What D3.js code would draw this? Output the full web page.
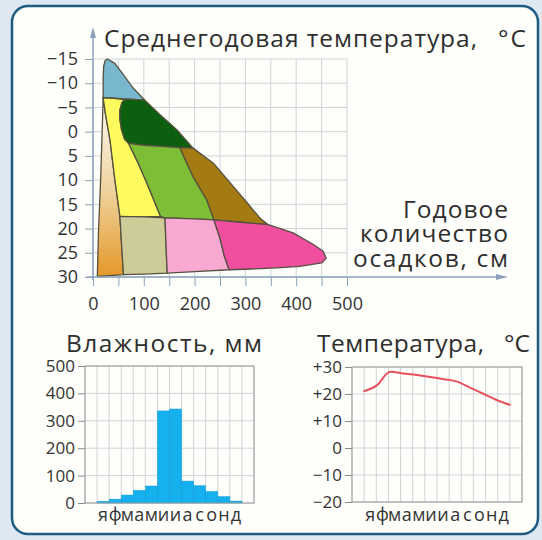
<!DOCTYPE html>
<html>
<head>
<meta charset="utf-8" />
<title>Климатическая диаграмма биомов</title>
<script src="https://cdn.jsdelivr.net/npm/d3@7"></script>
<style>
    body { margin: 0; background: #dde8f3; }
    text { font-family: "Open Sans", "Noto Sans", sans-serif; fill: #333; }
    text.title { fill: #2e2e2e; font-size: 24.5px; }
    .grid line { stroke: #cfd4da; stroke-width: 1; }
    .axis-main line, .axis-main path { stroke: #8aa2bb; }
    .biome { stroke: #55503f; stroke-width: 1.3; stroke-linejoin: round; }
</style>
</head>
<body>
<script>
// ---- data ----
// main chart ticks
var precipTicks = [0, 100, 200, 300, 400, 500];
var precipMinor = [0, 50, 100, 150, 200, 250, 300, 350, 400, 450, 500];
var tempTicks = [-15, -10, -5, 0, 5, 10, 15, 20, 25, 30];

// biome outlines: [annual precipitation, cm ; mean annual temperature, °C]
var tundra = [[20, -7.0], [20, -11], [21, -13.5], [24, -14.7], [28, -15.0], [32, -14.8], [43, -14.1], [60, -11.7], [79, -9.0], [102, -6.5], [70, -6.7], [40, -6.9]];
var borealForest = [[70, -6.7], [102, -6.5], [132, -3.5], [165, -0.4], [197, 3.4], [171, 3.3], [140, 3.1], [100, 2.8], [70, 2.4], [62, 1.5], [56, -0.5], [53, -2.5], [53, -4.5], [57, -6.0], [62, -6.6]];
var coldDesert = [[20, -7.0], [40, -6.9], [62, -6.6], [57, -6.0], [53, -4.5], [53, -2.5], [56, -0.5], [62, 1.5], [70, 2.4], [89, 6.5], [106, 10.6], [133, 17.5], [100, 17.6], [53, 17.5], [43, 9.9], [33.5, 1.7], [24, -4]];
var temperateForest = [[70, 2.4], [100, 2.8], [140, 3.1], [171, 3.3], [197, 9.3], [224, 14.1], [238, 18.2], [200, 18.0], [141.7, 17.8], [133, 17.5], [106, 10.6], [89, 6.5]];
var temperateRainforest = [[171, 3.3], [197, 3.4], [237, 6.5], [276, 11.3], [309, 15.4], [330, 18.0], [345, 19.2], [290, 18.7], [238, 18.2], [224, 14.1], [197, 9.3]];
var hotDesert = [[20, -7.0], [24, -4], [33.5, 1.7], [43, 9.9], [53, 17.5], [56.5, 23.7], [60, 29.5], [8.5, 29.9], [11, 20], [15, 10], [18, 0]];
var savanna = [[53, 17.5], [100, 17.6], [141.7, 17.8], [144, 24], [146, 29.2], [100, 29.4], [60, 29.5], [56.5, 23.7]];
var seasonalForest = [[141.7, 17.8], [200, 18.0], [238, 18.2], [250, 22], [258, 25.5], [268, 28.5], [200, 28.9], [146, 29.2], [144, 24]];
var tropicalRainforest = [[238, 18.2], [290, 18.7], [345, 19.2], [394, 20.9], [434, 23.3], [453, 24.7], [459, 26.1], [450, 27.1], [407, 27.8], [362, 28.1], [300, 28.4], [268, 28.5], [258, 25.5], [250, 22]];

// small charts
var months = ['я', 'ф', 'м', 'а', 'м', 'и', 'и', 'а', 'с', 'о', 'н', 'д'];
var humidity = [6, 14, 29, 46, 62, 336, 343, 80, 63, 42, 23, 7];
var monthlyTemp = [21.0, 23.2, 28.2, 27.6, 27.0, 26.3, 25.5, 24.6, 22.3, 20.0, 17.7, 15.9];
var humidityTicks = [0, 100, 200, 300, 400, 500];
var monthTempTicks = [-20, -10, 0, 10, 20, 30];

function minus(d) { return d < 0 ? '\u2212' + (-d) : String(d); }
function signed(d) { return d > 0 ? '+' + d : minus(d); }

var svg = d3.select('body').append('svg')
    .attr('width', 542)
    .attr('height', 540);

var defs = svg.append('defs');
var grad = defs.append('linearGradient')
    .attr('id', 'desertGrad')
    .attr('x1', 0).attr('y1', 0).attr('x2', 0).attr('y2', 1);
grad.append('stop').attr('offset', '0%').attr('stop-color', '#fbf8f0');
grad.append('stop').attr('offset', '50%').attr('stop-color', '#f0d5a2');
grad.append('stop').attr('offset', '100%').attr('stop-color', '#e5982a');

// frame
svg.append('rect')
    .attr('x', 12).attr('y', 6)
    .attr('width', 526).attr('height', 528)
    .attr('rx', 16)
    .attr('fill', '#fefefa')
    .attr('stroke', '#1d5b80')
    .attr('stroke-width', 2.5);

// ---- main chart ----
var x = d3.scaleLinear().domain([0, 500]).range([93, 347]);
var y = d3.scaleLinear().domain([-15, 30]).range([59, 277]);

var grid = svg.append('g').attr('class', 'grid');
grid.selectAll('line.v')
    .data(precipMinor)
    .enter().append('line')
    .attr('x1', function(d) { return x(d); })
    .attr('x2', function(d) { return x(d); })
    .attr('y1', y(-15)).attr('y2', y(30));
grid.selectAll('line.h')
    .data(tempTicks)
    .enter().append('line')
    .attr('x1', x(0)).attr('x2', x(500))
    .attr('y1', function(d) { return y(d); })
    .attr('y2', function(d) { return y(d); });

var area = d3.line()
    .x(function(d) { return x(d[0]); })
    .y(function(d) { return y(d[1]); })
    .curve(d3.curveLinearClosed);

var biomes = [
    { pts: hotDesert, fill: 'url(#desertGrad)' },
    { pts: tundra, fill: '#79b7cf' },
    { pts: coldDesert, fill: '#fdfb5e' },
    { pts: borealForest, fill: '#0b5f0e' },
    { pts: temperateForest, fill: '#7dbe36' },
    { pts: temperateRainforest, fill: '#a47a12' },
    { pts: savanna, fill: '#cdcb98' },
    { pts: seasonalForest, fill: '#f8a9d2' },
    { pts: tropicalRainforest, fill: '#f04fa0' }
];

svg.append('g').selectAll('path')
    .data(biomes)
    .enter().append('path')
    .attr('class', 'biome')
    .attr('d', function(d) { return area(d.pts); })
    .attr('fill', function(d) { return d.fill; });

// y axis
var yAxis = svg.append('g')
    .attr('class', 'axis-main')
    .attr('transform', 'translate(' + x(0) + ',0)')
    .call(d3.axisLeft(y).tickValues(tempTicks).tickSize(8).tickPadding(7).tickFormat(minus));
yAxis.select('.domain').remove();
yAxis.selectAll('text').style('font-size', '18px').attr('fill', '#333');

// x axis
var xAxis = svg.append('g')
    .attr('class', 'axis-main')
    .attr('transform', 'translate(0,' + y(30) + ')')
    .call(d3.axisBottom(x).tickValues(precipMinor).tickSize(9).tickPadding(11)
        .tickFormat(function(d) { return d % 100 === 0 ? d : ''; }));
xAxis.select('.domain').remove();
xAxis.selectAll('text').style('font-size', '18px').attr('fill', '#333');

// axis lines with arrows
svg.append('line')
    .attr('x1', x(0)).attr('x2', x(0))
    .attr('y1', y(30) + 3).attr('y2', 32)
    .attr('stroke', '#8aa2bb').attr('stroke-width', 1.5);
svg.append('path')
    .attr('d', 'M' + (x(0) - 3) + ',38 L' + x(0) + ',27 L' + (x(0) + 3) + ',38 Z')
    .attr('fill', '#8aa2bb');
svg.append('line')
    .attr('x1', x(0) - 6).attr('x2', 502)
    .attr('y1', y(30)).attr('y2', y(30))
    .attr('stroke', '#8aa2bb').attr('stroke-width', 1.5);
svg.append('path')
    .attr('d', 'M496,' + (y(30) - 3) + ' L508,' + y(30) + ' L496,' + (y(30) + 3) + ' Z')
    .attr('fill', '#8aa2bb');

// titles (widths stretched to match the original lettering)
function title(str, xPos, yPos, len, anchor) {
    return svg.append('text')
        .attr('class', 'title')
        .attr('x', xPos).attr('y', yPos)
        .attr('textLength', len)
        .attr('lengthAdjust', 'spacing')
        .style('text-anchor', anchor || 'start')
        .text(str);
}
title('Среднегодовая температура,', 104, 47, 373);
title('\u00b0C', 498, 47, 28);

title('Годовое', 508, 218, 105, 'end');
title('количество', 508, 242, 148, 'end');
title('осадков, см', 508, 267, 155, 'end');

// ---- humidity chart ----
var hx = d3.scaleBand().domain(d3.range(months.length)).range([85, 254]).paddingInner(0).paddingOuter(1);
var hy = d3.scaleLinear().domain([0, 500]).range([503, 366]);

var hGrid = svg.append('g').attr('class', 'grid');
var hCols = d3.range(months.length + 3).map(function(i) { return hx.range()[0] + i * hx.step(); });
hGrid.selectAll('line.v').data(hCols).enter().append('line')
    .attr('x1', function(d) { return d; }).attr('x2', function(d) { return d; })
    .attr('y1', hy(500)).attr('y2', hy(0));
hGrid.selectAll('line.h').data(humidityTicks).enter().append('line')
    .attr('x1', hx.range()[0]).attr('x2', hx.range()[1])
    .attr('y1', function(d) { return hy(d); }).attr('y2', function(d) { return hy(d); });

svg.append('g').selectAll('rect')
    .data(humidity)
    .enter().append('rect')
    .attr('x', function(d, i) { return hx(i); })
    .attr('y', function(d) { return hy(d); })
    .attr('width', hx.bandwidth())
    .attr('height', function(d) { return hy(0) - hy(d); })
    .attr('fill', '#14b1ee')
    .attr('stroke', '#0f9ad3')
    .attr('stroke-width', 0.5);

svg.append('rect')
    .attr('x', hx.range()[0]).attr('y', hy(500))
    .attr('width', hx.range()[1] - hx.range()[0]).attr('height', hy(0) - hy(500))
    .attr('fill', 'none').attr('stroke', '#9a9a9a');

var hAxis = svg.append('g')
    .attr('transform', 'translate(' + hx.range()[0] + ',0)')
    .call(d3.axisLeft(hy).tickValues(humidityTicks).tickSize(7).tickPadding(3));
hAxis.select('.domain').remove();
hAxis.selectAll('line').attr('stroke', '#8a8a8a');
hAxis.selectAll('text').style('font-size', '17px').attr('fill', '#333');

svg.append('g').selectAll('text')
    .data(months)
    .enter().append('text')
    .attr('x', function(d, i) { return hx(i) + hx.bandwidth() / 2; })
    .attr('y', 521)
    .style('font-size', '18px')
    .style('text-anchor', 'middle')
    .text(function(d) { return d; });

title('Влажность, мм', 66, 352, 196);

// ---- temperature chart ----
var tx = d3.scaleBand().domain(d3.range(months.length)).range([352, 522]).paddingInner(0).paddingOuter(1);
var tp = d3.scalePoint().domain(d3.range(months.length)).range([352, 522]).padding(0.85);
var ty = d3.scaleLinear().domain([-20, 30]).range([502, 367]);

var tGrid = svg.append('g').attr('class', 'grid');
var tCols = d3.range(months.length + 3).map(function(i) { return tx.range()[0] + i * tx.step(); });
tGrid.selectAll('line.v').data(tCols).enter().append('line')
    .attr('x1', function(d) { return d; }).attr('x2', function(d) { return d; })
    .attr('y1', ty(30)).attr('y2', ty(-20));
tGrid.selectAll('line.h').data(monthTempTicks).enter().append('line')
    .attr('x1', tx.range()[0]).attr('x2', tx.range()[1])
    .attr('y1', function(d) { return ty(d); }).attr('y2', function(d) { return ty(d); });

svg.append('rect')
    .attr('x', tx.range()[0]).attr('y', ty(30))
    .attr('width', tx.range()[1] - tx.range()[0]).attr('height', ty(-20) - ty(30))
    .attr('fill', 'none').attr('stroke', '#9a9a9a');

var tempLine = d3.line()
    .x(function(d, i) { return tp(i); })
    .y(function(d) { return ty(d); })
    .curve(d3.curveMonotoneX);

svg.append('path')
    .datum(monthlyTemp)
    .attr('d', tempLine)
    .attr('fill', 'none')
    .attr('stroke', '#e8505c')
    .attr('stroke-width', 2);

var tAxis = svg.append('g')
    .attr('transform', 'translate(' + tx.range()[0] + ',0)')
    .call(d3.axisLeft(ty).tickValues(monthTempTicks).tickSize(7).tickPadding(3).tickFormat(signed));
tAxis.select('.domain').remove();
tAxis.selectAll('line').attr('stroke', '#8a8a8a');
tAxis.selectAll('text').style('font-size', '17px').attr('fill', '#333');

svg.append('g').selectAll('text')
    .data(months)
    .enter().append('text')
    .attr('x', function(d, i) { return tx(i) + tx.bandwidth() / 2; })
    .attr('y', 521)
    .style('font-size', '18px')
    .style('text-anchor', 'middle')
    .text(function(d) { return d; });

title('Температура,', 317, 352, 167);
title('\u00b0C', 504, 352, 26);
</script>
</body>
</html>
